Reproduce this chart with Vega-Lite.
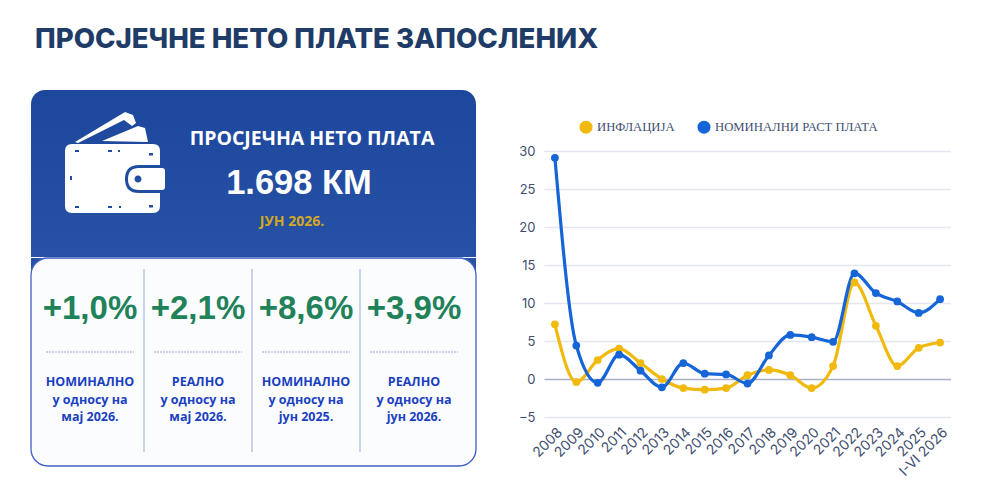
{
  "$schema": "https://vega.github.io/schema/vega-lite/v6.json",
  "background": "#ffffff",
  "padding": {"left": 30, "top": 26, "right": 0, "bottom": 0},
  "title": {
    "text": "ПРОСЈЕЧНЕ НЕТО ПЛАТЕ ЗАПОСЛЕНИХ",
    "anchor": "start",
    "frame": "group",
    "dx": 4,
    "offset": 36,
    "font": "Inter",
    "fontSize": 27.6,
    "fontWeight": 800,
    "color": "#1f3c68"
  },
  "datasets": {
    "wages": [
      {"year": "2008", "series": "ИНФЛАЦИЈА", "value": 7.2},
      {"year": "2009", "series": "ИНФЛАЦИЈА", "value": -0.4},
      {"year": "2010", "series": "ИНФЛАЦИЈА", "value": 2.5},
      {"year": "2011", "series": "ИНФЛАЦИЈА", "value": 4.0},
      {"year": "2012", "series": "ИНФЛАЦИЈА", "value": 2.1},
      {"year": "2013", "series": "ИНФЛАЦИЈА", "value": 0.0},
      {"year": "2014", "series": "ИНФЛАЦИЈА", "value": -1.2},
      {"year": "2015", "series": "ИНФЛАЦИЈА", "value": -1.4},
      {"year": "2016", "series": "ИНФЛАЦИЈА", "value": -1.2},
      {"year": "2017", "series": "ИНФЛАЦИЈА", "value": 0.5},
      {"year": "2018", "series": "ИНФЛАЦИЈА", "value": 1.2},
      {"year": "2019", "series": "ИНФЛАЦИЈА", "value": 0.5},
      {"year": "2020", "series": "ИНФЛАЦИЈА", "value": -1.2},
      {"year": "2021", "series": "ИНФЛАЦИЈА", "value": 1.7},
      {"year": "2022", "series": "ИНФЛАЦИЈА", "value": 12.7},
      {"year": "2023", "series": "ИНФЛАЦИЈА", "value": 7.0},
      {"year": "2024", "series": "ИНФЛАЦИЈА", "value": 1.7},
      {"year": "2025", "series": "ИНФЛАЦИЈА", "value": 4.1},
      {"year": "I-VI 2026", "series": "ИНФЛАЦИЈА", "value": 4.8},
      {"year": "2008", "series": "НОМИНАЛНИ РАСТ ПЛАТА", "value": 29.1},
      {"year": "2009", "series": "НОМИНАЛНИ РАСТ ПЛАТА", "value": 4.4},
      {"year": "2010", "series": "НОМИНАЛНИ РАСТ ПЛАТА", "value": -0.5},
      {"year": "2011", "series": "НОМИНАЛНИ РАСТ ПЛАТА", "value": 3.2},
      {"year": "2012", "series": "НОМИНАЛНИ РАСТ ПЛАТА", "value": 1.1},
      {"year": "2013", "series": "НОМИНАЛНИ РАСТ ПЛАТА", "value": -1.1},
      {"year": "2014", "series": "НОМИНАЛНИ РАСТ ПЛАТА", "value": 2.1},
      {"year": "2015", "series": "НОМИНАЛНИ РАСТ ПЛАТА", "value": 0.7},
      {"year": "2016", "series": "НОМИНАЛНИ РАСТ ПЛАТА", "value": 0.6},
      {"year": "2017", "series": "НОМИНАЛНИ РАСТ ПЛАТА", "value": -0.6},
      {"year": "2018", "series": "НОМИНАЛНИ РАСТ ПЛАТА", "value": 3.1},
      {"year": "2019", "series": "НОМИНАЛНИ РАСТ ПЛАТА", "value": 5.8},
      {"year": "2020", "series": "НОМИНАЛНИ РАСТ ПЛАТА", "value": 5.5},
      {"year": "2021", "series": "НОМИНАЛНИ РАСТ ПЛАТА", "value": 4.9},
      {"year": "2022", "series": "НОМИНАЛНИ РАСТ ПЛАТА", "value": 13.9},
      {"year": "2023", "series": "НОМИНАЛНИ РАСТ ПЛАТА", "value": 11.3},
      {"year": "2024", "series": "НОМИНАЛНИ РАСТ ПЛАТА", "value": 10.2},
      {"year": "2025", "series": "НОМИНАЛНИ РАСТ ПЛАТА", "value": 8.7},
      {"year": "I-VI 2026", "series": "НОМИНАЛНИ РАСТ ПЛАТА", "value": 10.5}
    ],
    "headline": [
      {"slot": "text", "row": "heading", "label": "ПРОСЈЕЧНА НЕТО ПЛАТА"},
      {"slot": "text", "row": "value", "label": "1.698 КМ"},
      {"slot": "text", "row": "date", "label": "ЈУН 2026."}
    ],
    "kpi": [
      {"col": "a", "pct": "+1,0%", "row": "pct"},
      {"col": "b", "pct": "+2,1%", "row": "pct"},
      {"col": "c", "pct": "+8,6%", "row": "pct"},
      {"col": "d", "pct": "+3,9%", "row": "pct"}
    ],
    "kpiText": [
      {"col": "a", "row": "l1", "label": "НОМИНАЛНО"},
      {"col": "a", "row": "l2", "label": "у односу на"},
      {"col": "a", "row": "l3", "label": "мај 2026."},
      {"col": "b", "row": "l1", "label": "РЕАЛНО"},
      {"col": "b", "row": "l2", "label": "у односу на"},
      {"col": "b", "row": "l3", "label": "мај 2026."},
      {"col": "c", "row": "l1", "label": "НОМИНАЛНО"},
      {"col": "c", "row": "l2", "label": "у односу на"},
      {"col": "c", "row": "l3", "label": "јун 2025."},
      {"col": "d", "row": "l1", "label": "РЕАЛНО"},
      {"col": "d", "row": "l2", "label": "у односу на"},
      {"col": "d", "row": "l3", "label": "јун 2026."}
    ],
    "dividers": [
      {"col": "a", "from": "top", "to": "bottom"},
      {"col": "b", "from": "top", "to": "bottom"},
      {"col": "c", "from": "top", "to": "bottom"}
    ]
  },
  "config": {
    "view": {"stroke": null},
    "axis": {"labelFont": "Inter"}
  },
  "spacing": 41,
  "hconcat": [
    {
      "spacing": 0,
      "vconcat": [
        {
          "width": 445,
          "height": 167,
          "layer": [
            {
              "data": {"values": [{"panel": "header"}]},
              "mark": {
                "type": "rect",
                "cornerRadiusTopLeft": 14,
                "cornerRadiusTopRight": 14,
                "fill": {
                  "gradient": "linear",
                  "x1": 0, "y1": 0, "x2": 0, "y2": 1,
                  "stops": [
                    {"offset": 0, "color": "#1c479c"},
                    {"offset": 1, "color": "#2751a5"}
                  ]
                }
              }
            },
            {
              "data": {"values": [{"slot": "wallet", "row": "mid"}]},
              "encoding": {
                "x": {"field": "slot", "type": "nominal", "axis": null, "scale": {"type": "point", "domain": ["wallet", "text"], "range": [84, 281], "padding": 0}},
                "y": {"field": "row", "type": "nominal", "axis": null, "scale": {"type": "point", "domain": ["mid", "end"], "range": [72, 167], "padding": 0}}
              },
              "layer": [
                {"mark": {"type": "point", "filled": true, "opacity": 1, "size": 10000, "color": "#ffffff", "shape": "M-0.86,-0.36 H0.76 Q0.9,-0.36 0.9,-0.22 V0.88 Q0.9,1.02 0.76,1.02 H-0.86 Q-1,1.02 -1,0.88 V-0.22 Q-1,-0.36 -0.86,-0.36Z M-0.8,-0.4 L0.2,-1 L0.36,-0.94 L0.42,-0.78 L0.34,-0.72 L0.18,-0.84 L-0.74,-0.38Z M-0.26,-0.42 L0.46,-0.72 L0.6,-0.68 L0.66,-0.4Z"}},
                {"mark": {"type": "point", "filled": true, "opacity": 1, "size": 10000, "color": "#214da0", "shape": "M0.48,0.06 H1.1 V0.62 H0.48 Q0.2,0.62 0.2,0.34 Q0.2,0.06 0.48,0.06Z M-0.8,-0.24 h0.08 v0.04 h-0.08Z M-0.14,-0.24 h0.08 v0.04 h-0.08Z M0.06,-0.24 h0.04 v0.04 h-0.04Z M0.68,-0.18 h0.08 v0.05 h-0.08Z M-0.9,0.28 h0.04 v0.08 h-0.04Z M-0.8,0.88 h0.08 v0.04 h-0.08Z M-0.14,0.88 h0.08 v0.04 h-0.08Z M0.08,0.88 h0.04 v0.04 h-0.04Z M0.68,0.86 h0.08 v0.05 h-0.08Z"}},
                {"mark": {"type": "point", "filled": true, "opacity": 1, "size": 10000, "color": "#ffffff", "shape": "M0.48,0.12 H0.94 Q1,0.12 1,0.18 V0.5 Q1,0.56 0.94,0.56 H0.48 Q0.26,0.56 0.26,0.34 Q0.26,0.12 0.48,0.12Z"}},
                {"mark": {"type": "point", "filled": true, "opacity": 1, "size": 10000, "color": "#214da0", "shape": "M0.39,0.34 A0.07,0.07 0 1 1 0.53,0.34 A0.07,0.07 0 1 1 0.39,0.34Z"}}
              ]
            },
            {
              "data": {"name": "headline"},
              "encoding": {
                "x": {"field": "slot", "type": "nominal", "axis": null, "scale": {"type": "point", "domain": ["wallet", "text"], "range": [84, 281], "padding": 0}},
                "y": {"field": "row", "type": "nominal", "axis": null, "scale": {"type": "point", "domain": ["heading", "value", "date"], "range": [49, 131], "padding": 0}},
                "text": {"field": "label"}
              },
              "layer": [
                {"transform": [{"filter": "datum.row === 'heading'"}], "mark": {"type": "text", "font": "Open Sans", "fontSize": 19.5, "fontWeight": 700, "color": "#ffffff"}},
                {"transform": [{"filter": "datum.row === 'value'"}], "mark": {"type": "text", "font": "Liberation Sans", "fontSize": 34.5, "fontWeight": 700, "color": "#ffffff", "dx": -13, "dy": 4}},
                {"transform": [{"filter": "datum.row === 'date'"}], "mark": {"type": "text", "font": "Open Sans", "fontSize": 14, "fontWeight": 700, "color": "#d4a71f", "dx": -20, "dy": 1}}
              ]
            }
          ],
          "resolve": {"scale": {"x": "independent", "y": "independent"}}
        },
        {
          "width": 445,
          "height": 208,
          "layer": [
            {
              "data": {"values": [{"from": "top", "to": "corner"}]},
              "mark": {"type": "rect", "fill": "#2751a5"},
              "encoding": {
                "y": {"field": "from", "type": "nominal", "axis": null, "scale": {"type": "point", "domain": ["top", "corner"], "range": [0, 18], "padding": 0}},
                "y2": {"field": "to"}
              }
            },
            {
              "data": {"values": [{"panel": "card"}]},
              "mark": {"type": "rect", "fill": "#fbfcfe", "stroke": "#3f5fc4", "strokeWidth": 1.3, "cornerRadius": 17}
            },
            {
              "data": {"name": "dividers"},
              "mark": {"type": "rule", "color": "#b3c0e4", "strokeWidth": 1.4},
              "encoding": {
                "x": {"field": "col", "type": "nominal", "bandPosition": 1, "axis": null, "scale": {"type": "band", "domain": ["a", "b", "c", "d"], "range": [5, 437], "paddingInner": 0, "paddingOuter": 0}},
                "y": {"field": "from", "type": "nominal", "axis": null, "scale": {"type": "point", "domain": ["top", "bottom"], "range": [11, 194], "padding": 0}},
                "y2": {"field": "to"}
              }
            },
            {
              "data": {"name": "kpi"},
              "mark": {"type": "text", "font": "Liberation Sans", "fontSize": 33, "fontWeight": 700, "color": "#21825a"},
              "encoding": {
                "x": {"field": "col", "type": "nominal", "axis": null, "scale": {"type": "band", "domain": ["a", "b", "c", "d"], "range": [5, 437], "paddingInner": 0, "paddingOuter": 0}},
                "y": {"field": "row", "type": "nominal", "axis": null, "scale": {"type": "point", "domain": ["pct", "dots"], "range": [51, 94], "padding": 0}},
                "text": {"field": "pct"}
              }
            },
            {
              "data": {"name": "kpi"},
              "transform": [{"calculate": "'dots'", "as": "row"}],
              "mark": {"type": "tick", "orient": "horizontal", "size": 88, "thickness": 0, "filled": false, "stroke": "#6f85c9", "strokeWidth": 1, "strokeDash": [1, 2]},
              "encoding": {
                "x": {"field": "col", "type": "nominal", "axis": null, "scale": {"type": "band", "domain": ["a", "b", "c", "d"], "range": [5, 437], "paddingInner": 0, "paddingOuter": 0}},
                "y": {"field": "row", "type": "nominal", "axis": null, "scale": {"type": "point", "domain": ["pct", "dots"], "range": [51, 94], "padding": 0}}
              }
            },
            {
              "data": {"name": "kpiText"},
              "mark": {"type": "text", "font": "Open Sans", "fontSize": 12.5, "fontWeight": 700, "color": "#1a3fc0"},
              "encoding": {
                "x": {"field": "col", "type": "nominal", "axis": null, "scale": {"type": "band", "domain": ["a", "b", "c", "d"], "range": [5, 437], "paddingInner": 0, "paddingOuter": 0}},
                "y": {"field": "row", "type": "nominal", "axis": null, "scale": {"type": "point", "domain": ["l1", "l2", "l3"], "range": [124, 159], "padding": 0}},
                "text": {"field": "label"}
              }
            }
          ],
          "resolve": {"scale": {"y": "independent"}}
        }
      ]
    },
    {
      "width": 407,
      "height": 327,
      "data": {"name": "wages"},
      "encoding": {
        "x": {
          "field": "year",
          "type": "nominal",
          "sort": null,
          "title": null,
          "scale": {"type": "point", "padding": 0.51},
          "axis": {"labelAngle": -45, "labelFontSize": 14, "labelColor": "#3f4f73", "ticks": false, "domain": false, "labelPadding": 8, "labelOverlap": false}
        },
        "y": {
          "field": "value",
          "type": "quantitative",
          "title": null,
          "scale": {"domain": [-5, 30], "range": [327, 61], "nice": false},
          "axis": {
            "values": [-5, 0, 5, 10, 15, 20, 25, 30],
            "labelFontSize": 13,
            "labelColor": "#3f4f73",
            "labelPadding": 9,
            "ticks": false,
            "domain": false,
            "grid": true,
            "gridWidth": 1.5,
            "gridColor": {"condition": {"test": "datum.value === 0", "value": "#a9afc4"}, "value": "#e3e6ef"}
          }
        },
        "color": {
          "field": "series",
          "type": "nominal",
          "sort": null,
          "title": null,
          "scale": {"domain": ["ИНФЛАЦИЈА", "НОМИНАЛНИ РАСТ ПЛАТА"], "range": ["#f0b90b", "#1565d8"]},
          "legend": {
            "orient": "none",
            "direction": "horizontal",
            "columns": 2,
            "legendX": 548,
            "legendY": 30,
            "symbolType": "circle",
            "symbolSize": 170,
            "symbolStrokeWidth": 0,
            "labelFont": "Liberation Serif",
            "labelFontSize": 12.7,
            "labelColor": "#3f4f73",
            "labelLimit": 300,
            "columnPadding": 22
          }
        }
      },
      "layer": [
        {"mark": {"type": "line", "interpolate": "monotone", "strokeWidth": 3.2}},
        {"mark": {"type": "point", "filled": true, "opacity": 1, "size": 60}}
      ]
    }
  ]
}
